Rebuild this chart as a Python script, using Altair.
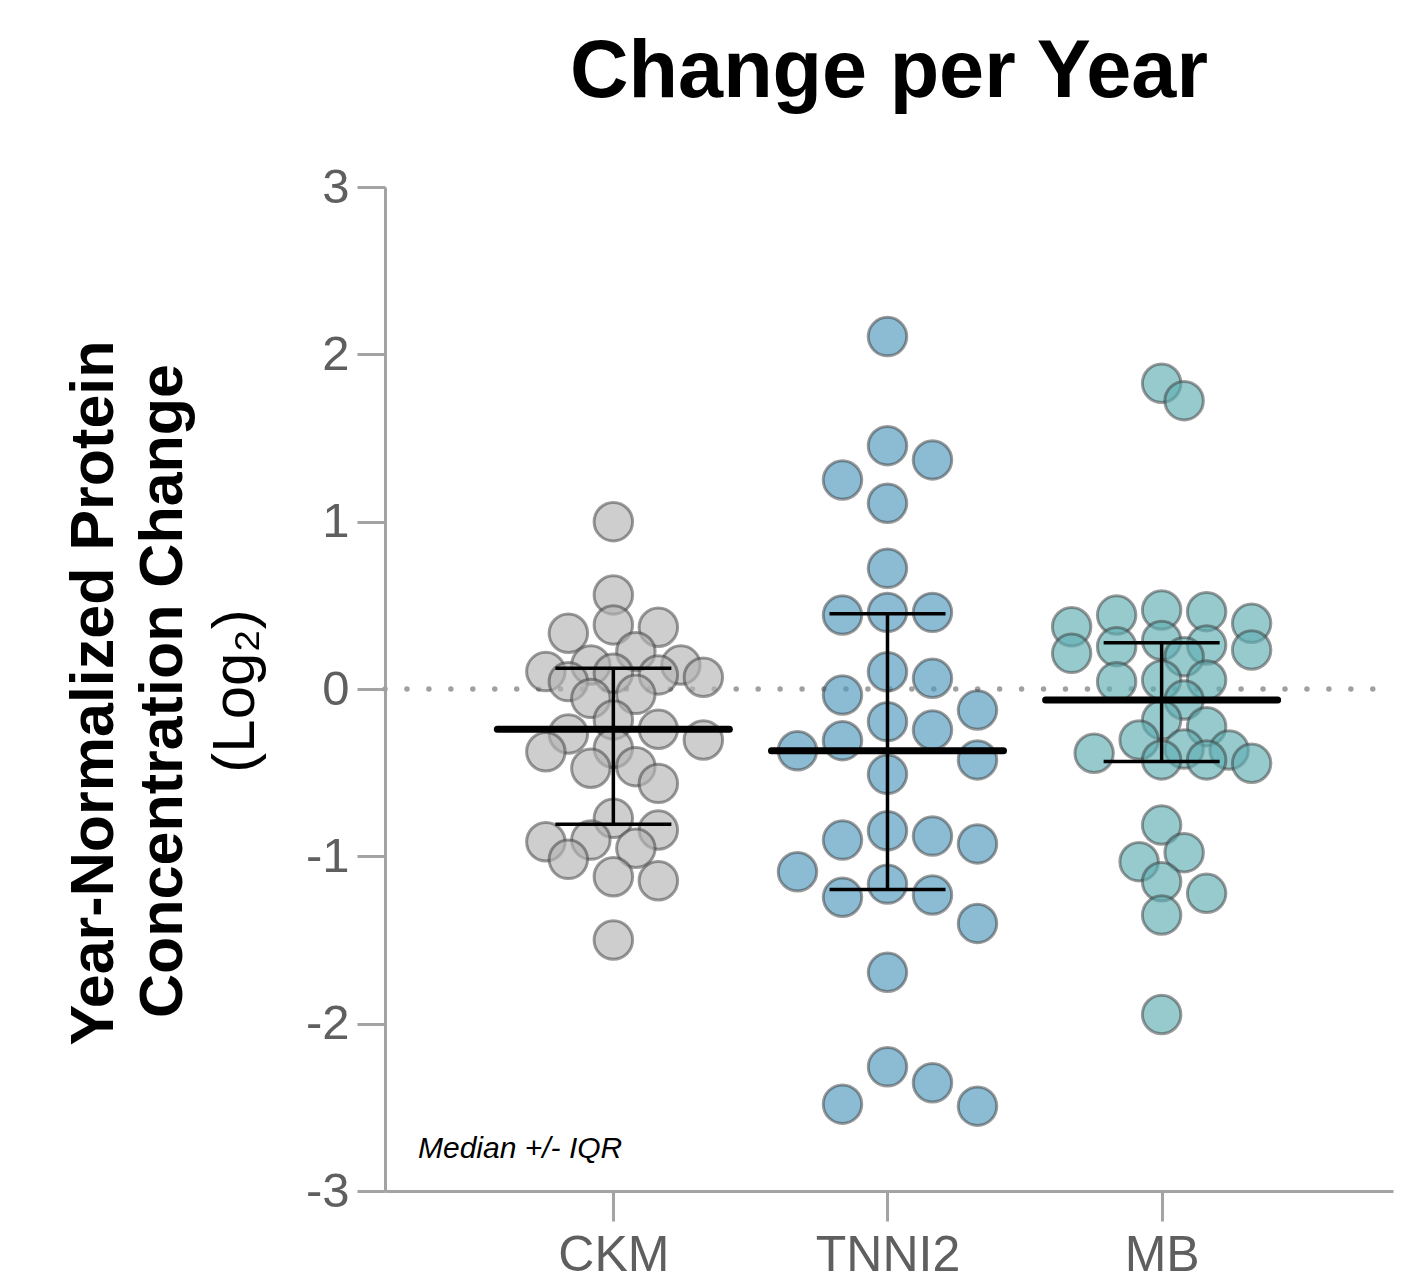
import math
import altair as alt
import pandas as pd

# ---------------- data ----------------
categories = ["CKM", "TNNI2", "MB"]
ckm_values = [1.00, 0.562, 0.383, 0.369, 0.333, 0.223, 0.143, 0.143, 0.104, 0.094,
              0.084, 0.070, 0.044, -0.032, -0.056, -0.185, -0.241, -0.269, -0.305,
              -0.354, -0.375, -0.464, -0.474, -0.564, -0.773, -0.843, -0.903, -0.913,
              -0.952, -1.018, -1.122, -1.146, -1.50]
tnni2_values = [2.106, 1.454, 1.369, 1.249, 1.110, 0.721, 0.458, 0.458, 0.442, 0.103,
                0.064, -0.036, -0.126, -0.195, -0.245, -0.309, -0.369, -0.424, -0.510,
                -0.847, -0.879, -0.903, -0.926, -1.092, -1.166, -1.231, -1.245, -1.401,
                -1.693, -2.258, -2.353, -2.481, -2.493]
mb_values = [1.827, 1.723, 0.472, 0.462, 0.442, 0.393, 0.372, 0.290, 0.263, 0.253,
             0.233, 0.213, 0.193, 0.054, 0.054, 0.044, -0.066, -0.185, -0.225, -0.305,
             -0.359, -0.365, -0.384, -0.424, -0.424, -0.444, -0.813, -0.978, -1.032,
             -1.152, -1.221, -1.351, -1.945]
group_values = [ckm_values, tnni2_values, mb_values]
fill_colors = ["#b4b4b6", "#4e98bd", "#5fadb2"]
y_ticks = [-3, -2, -1, 0, 1, 2, 3]

title_text = "Change per Year"
y_title_lines = ["Year-Normalized Protein", "Concentration Change", "(Log\u2082)"]
note_text = "Median +/- IQR"

# ---------------- layout ----------------
W, H = 1008, 1004
X_DOMAIN = [-0.833, 2.844]
Y_DOMAIN = [-3, 3]
PX_X = W / (X_DOMAIN[1] - X_DOMAIN[0])
PX_Y = H / (Y_DOMAIN[1] - Y_DOMAIN[0])
DOT = 45.0


def quartile(vals, p):
    s = sorted(vals)
    n = len(s)
    pos = p * (n + 1)
    lo = int(math.floor(pos))
    frac = pos - lo
    lo = max(1, min(lo, n))
    hi = min(lo + 1, n)
    return s[lo - 1] + frac * (s[hi - 1] - s[lo - 1])


def swarm(vals):
    """Greedy beeswarm; tries a non-overlapping grid first, then a compressed one."""
    order = sorted(range(len(vals)), key=lambda i: -vals[i])
    passes = [(DOT, DOT * 0.97, 2), (DOT / 2.0, DOT * 0.62, 4)]
    for step, md, kmax in passes:
        cands = [0]
        for k in range(1, kmax + 1):
            cands += [k, -k]
        placed = []
        offs = [0.0] * len(vals)
        ok = True
        for i in order:
            y = vals[i] * PX_Y

            def dmin(c):
                x = c * step
                return min((math.hypot(x - px, y - py) for px, py in placed), default=1e9)

            chosen = None
            for c in cands:
                if dmin(c) >= md:
                    chosen = c
                    break
            if chosen is None:
                ok = False
                chosen = max(cands, key=dmin)
            placed.append((chosen * step, y))
            offs[i] = chosen * step / PX_X
        if ok or step != DOT:
            return offs
    return offs


rows = []
stats = []
for gi, (name, vals) in enumerate(zip(categories, group_values)):
    offs = swarm(vals)
    for v, o in zip(vals, offs):
        rows.append({"gene": name, "value": v, "xpos": gi + o})
    stats.append({
        "gene": name,
        "xc": gi,
        "median": quartile(vals, 0.5),
        "q1": quartile(vals, 0.25),
        "q3": quartile(vals, 0.75),
        "mx1": gi - 116.0 / PX_X,
        "mx2": gi + 116.0 / PX_X,
        "cx1": gi - 58.0 / PX_X,
        "cx2": gi + 58.0 / PX_X,
    })
points_df = pd.DataFrame(rows)
stats_df = pd.DataFrame(stats)

FONT = "Liberation Sans"
AXIS_GRAY = "#a3a3a5"
LABEL_GRAY = "#5f5f5f"

xscale = alt.Scale(domain=X_DOMAIN, nice=False, zero=False)
yscale = alt.Scale(domain=Y_DOMAIN, nice=False, zero=False)

label_expr = "[" + ",".join("'%s'" % c for c in categories) + "][datum.value]"

xaxis = alt.Axis(values=[0, 1, 2], labelExpr=label_expr, title=None, grid=False,
                 domainColor=AXIS_GRAY, domainWidth=3, tickColor=AXIS_GRAY, tickWidth=3,
                 tickSize=30, labelFontSize=50, labelColor=LABEL_GRAY, labelFont=FONT,
                 labelPadding=9, labelFlush=False, labelOverlap=False)
yaxis = alt.Axis(values=y_ticks, labelExpr="'' + datum.value", title=None, grid=False,
                 domainColor=AXIS_GRAY, domainWidth=3, tickColor=AXIS_GRAY, tickWidth=3,
                 tickSize=28, labelFontSize=49, labelColor=LABEL_GRAY, labelFont=FONT,
                 labelPadding=8, labelFlush=False, labelOverlap=False)

zero_df = pd.DataFrame({"y": [0.0]})
zero_line = alt.Chart(zero_df).mark_rule(
    color="#a0a0a2", strokeWidth=5.5, strokeCap="round", strokeDash=[0.001, 21.95]
).encode(
    y=alt.Y("y:Q", scale=yscale, axis=yaxis),
    x=alt.value(0),
    x2=alt.value(W),
)

points = alt.Chart(points_df).mark_circle(
    size=1480, fillOpacity=0.65, stroke="#3a3a3a", strokeOpacity=0.5, strokeWidth=3
).encode(
    x=alt.X("xpos:Q", scale=xscale, axis=xaxis),
    y=alt.Y("value:Q", scale=yscale, axis=yaxis),
    fill=alt.Fill("gene:N", scale=alt.Scale(domain=categories, range=fill_colors), legend=None),
)

median_rule = alt.Chart(stats_df).mark_rule(color="black", strokeWidth=7, strokeCap="round").encode(
    x=alt.X("mx1:Q", scale=xscale), x2="mx2:Q", y=alt.Y("median:Q", scale=yscale)
)
iqr_rule = alt.Chart(stats_df).mark_rule(color="black", strokeWidth=3.5).encode(
    x=alt.X("xc:Q", scale=xscale), y=alt.Y("q1:Q", scale=yscale), y2="q3:Q"
)
cap_lo = alt.Chart(stats_df).mark_rule(color="black", strokeWidth=3.5).encode(
    x=alt.X("cx1:Q", scale=xscale), x2="cx2:Q", y=alt.Y("q1:Q", scale=yscale)
)
cap_hi = alt.Chart(stats_df).mark_rule(color="black", strokeWidth=3.5).encode(
    x=alt.X("cx1:Q", scale=xscale), x2="cx2:Q", y=alt.Y("q3:Q", scale=yscale)
)


def text_layer(txt, x, y, **kw):
    df = pd.DataFrame({"t": [txt]})
    return alt.Chart(df).mark_text(font=FONT, **kw).encode(
        text="t:N", x=alt.value(x), y=alt.value(y)
    )


title = text_layer(title_text, W / 2, -90, fontSize=81, fontWeight="bold",
                   align="center", baseline="alphabetic", color="black")
yt1 = text_layer(y_title_lines[0], -272, 506, fontSize=61, fontWeight="bold",
                 angle=270, align="center", baseline="alphabetic", color="black")
yt2 = text_layer(y_title_lines[1], -203, 504, fontSize=61, fontWeight="bold",
                 angle=270, align="center", baseline="alphabetic", color="black")
yt3 = text_layer(y_title_lines[2], -131, 504, fontSize=60, fontWeight="normal",
                 angle=270, align="center", baseline="alphabetic", color="black")
note = text_layer(note_text, 33, 971, fontSize=30, fontStyle="italic",
                  align="left", baseline="alphabetic", color="black")

chart = alt.layer(
    zero_line, points, median_rule, iqr_rule, cap_lo, cap_hi,
    title, yt1, yt2, yt3, note
).properties(
    width=W, height=H,
    padding={"left": 377, "top": 179, "right": 20, "bottom": 90},
    autosize="none",
).configure_view(stroke=None)

chart.save("out.html", embed_options={"renderer": "svg", "actions": False})
